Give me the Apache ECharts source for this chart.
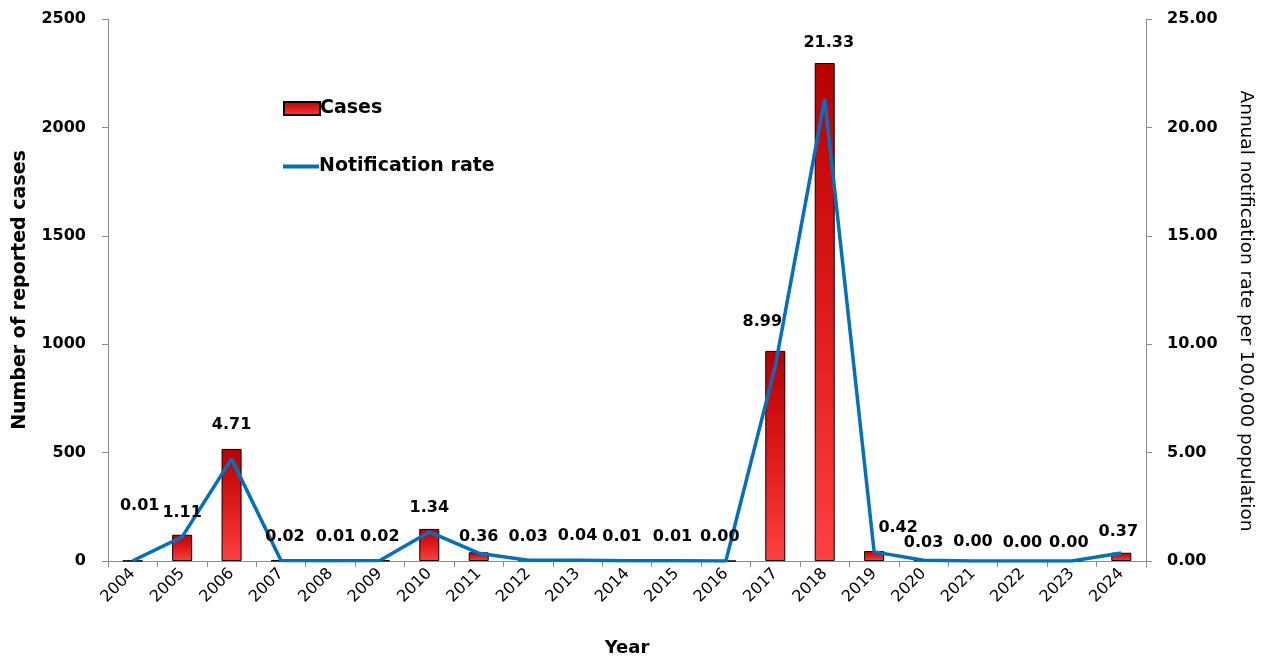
<!DOCTYPE html>
<html>
<head>
<meta charset="utf-8">
<script src="https://cdn.jsdelivr.net/npm/echarts@6/dist/echarts.min.js"></script>
<style>
  html, body { margin: 0; padding: 0; background: #fff; }
  #chart { width: 1268px; height: 662px; }
</style>
</head>
<body>
<div id="chart"></div>
<script>
// Reported cases and annual notification rate, 2004–2024
const years = ['2004','2005','2006','2007','2008','2009','2010','2011','2012','2013','2014',
               '2015','2016','2017','2018','2019','2020','2021','2022','2023','2024'];
const cases = [1, 121, 517, 2, 1, 2, 148, 40, 3, 4, 1, 1, 0, 969, 2297, 46, 3, 0, 0, 0, 38];
const rates = [0.01, 1.11, 4.71, 0.02, 0.01, 0.02, 1.34, 0.36, 0.03, 0.04, 0.01,
               0.01, 0.00, 8.99, 21.33, 0.42, 0.03, 0.00, 0.00, 0.00, 0.37];
const leftTicks = [0, 500, 1000, 1500, 2000, 2500];
const rightTicks = [0, 5, 10, 15, 20, 25];

// label nudges (px) for crowded or steep points
const labelNudge = {
  '2004': [7, -31], '2006': [0, -10], '2007': [4, 0], '2008': [5, 0],
  '2011': [0, 8], '2014': [-5, 0], '2015': [-4, 0], '2016': [-6, 0],
  '2017': [-13, -20], '2018': [4, -32], '2019': [24, 0],
  '2020': [0, 6], '2021': [0, 5], '2022': [0, 6], '2023': [-3, 6], '2024': [-3, 3]
};

const FONT = 'DejaVu Sans';
const axisGrey = '#8c8c8c';
const lineBlue = '#0070c0';

const barFill = new echarts.graphic.LinearGradient(0, 0, 0, 1, [
  { offset: 0, color: '#b80000' },
  { offset: 0.5, color: '#e01a1a' },
  { offset: 1, color: '#ff4040' }
]);

const legendText = { fontFamily: FONT, fontSize: 19, fontWeight: 'bold', color: '#000', padding: [0, 0, 0, -5] };

const chart = echarts.init(document.getElementById('chart'), null, { renderer: 'canvas' });

chart.setOption({
  animation: false,
  backgroundColor: '#fff',
  textStyle: { fontFamily: FONT, color: '#000' },
  grid: { left: 108, right: 122, top: 19, bottom: 101, containLabel: false },
  legend: [
    {
      left: 278, top: 94, itemWidth: 36, itemHeight: 13,
      textStyle: legendText,
      data: [{ name: 'Cases', icon: 'rect' }]
    },
    {
      left: 278, top: 152, itemWidth: 36, itemHeight: 4,
      textStyle: legendText,
      data: [{ name: 'Notification rate', icon: 'rect' }]
    }
  ],
  xAxis: {
    type: 'category',
    data: years,
    name: 'Year', nameLocation: 'middle', nameGap: 78,
    nameTextStyle: { fontFamily: FONT, fontSize: 18, fontWeight: 'bold', color: '#000' },
    axisLine: { lineStyle: { color: axisGrey, width: 1 } },
    axisTick: { show: true, length: 6, lineStyle: { color: axisGrey } },
    axisLabel: { rotate: 45, fontSize: 16, color: '#000', margin: 10, fontFamily: FONT }
  },
  yAxis: [
    {
      type: 'value', min: leftTicks[0], max: leftTicks[leftTicks.length - 1], interval: leftTicks[1] - leftTicks[0],
      name: 'Number of reported cases', nameLocation: 'middle', nameGap: 78, nameRotate: 90,
      nameTextStyle: { fontFamily: FONT, fontSize: 19, fontWeight: 'bold', color: '#000' },
      axisLine: { show: true, lineStyle: { color: axisGrey } },
      axisTick: { show: true, length: 6, lineStyle: { color: axisGrey } },
      axisLabel: { fontSize: 16, fontWeight: 'bold', color: '#000', margin: 22, fontFamily: FONT,
                   formatter: v => String(v) },
      splitLine: { show: false }
    },
    {
      type: 'value', min: rightTicks[0], max: rightTicks[rightTicks.length - 1], interval: rightTicks[1] - rightTicks[0],
      position: 'right',
      name: 'Annual notification rate per 100,000 population', nameLocation: 'middle', nameGap: 90, nameRotate: -90,
      nameTextStyle: { fontFamily: FONT, fontSize: 18.5, color: '#000', padding: [0, 0, 0, 42] },
      axisLine: { show: true, lineStyle: { color: axisGrey } },
      axisTick: { show: true, length: 6, lineStyle: { color: axisGrey } },
      axisLabel: { fontSize: 16, fontWeight: 'bold', color: '#000', margin: 21, fontFamily: FONT,
                   formatter: v => v.toFixed(2) },
      splitLine: { show: false }
    }
  ],
  series: [
    {
      name: 'Cases', type: 'bar', yAxisIndex: 0, barWidth: 20,
      data: cases,
      itemStyle: { color: barFill, borderColor: '#000', borderWidth: 1 },
      z: 2
    },
    {
      name: 'Notification rate', type: 'line', yAxisIndex: 1,
      symbol: 'circle', symbolSize: 0.01, showSymbol: true,
      lineStyle: { color: lineBlue, width: 3.5 },
      itemStyle: { color: lineBlue },
      data: rates,
      label: {
        show: true, position: 'top', distance: 16,
        fontFamily: FONT, fontSize: 16, fontWeight: 'bold', color: '#000',
        formatter: p => p.value.toFixed(2)
      },
      labelLayout: p => {
        const n = labelNudge[years[p.dataIndex]] || [0, 0];
        return { dx: n[0], dy: n[1], hideOverlap: false };
      },
      z: 5
    }
  ]
});
</script>
</body>
</html>
